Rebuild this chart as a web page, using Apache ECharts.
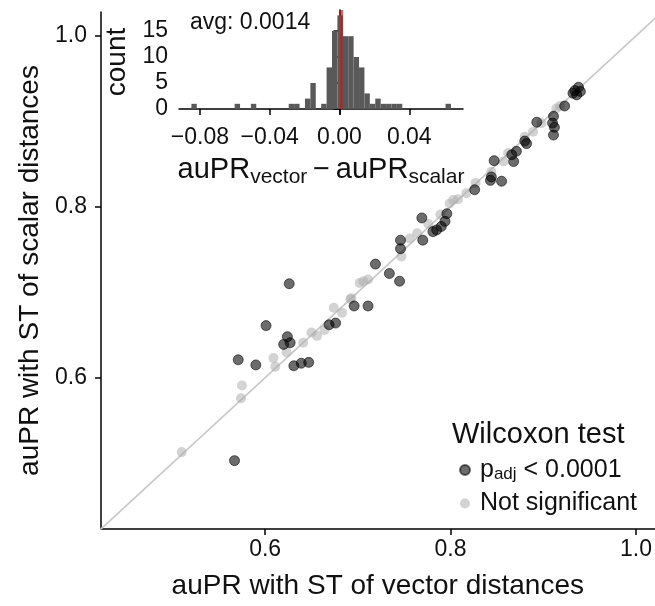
<!DOCTYPE html>
<html><head><meta charset="utf-8">
<script src="https://cdn.jsdelivr.net/npm/echarts@6/dist/echarts.min.js"></script>
<style>html,body{margin:0;padding:0;background:#fff}#c{width:655px;height:606px}</style>
</head><body><div id="c"></div>
<script>
// Significant (p_adj < 0.0001) points
const sigX = [0.567,0.571,0.590,0.601,0.626,0.624,0.620,0.627,0.631,0.639,0.647,0.669,0.676,0.696,0.711,0.719,0.734,0.745,0.746,0.746,0.769,0.770,0.781,0.785,0.794,0.796,0.790,0.826,0.844,0.843,0.855,0.847,0.868,0.866,0.871,0.882,0.880,0.893,0.911,0.910,0.912,0.911,0.923,0.938,0.932,0.936,0.934,0.940];
const sigY = [0.503,0.621,0.615,0.661,0.710,0.648,0.639,0.641,0.614,0.617,0.618,0.662,0.664,0.684,0.684,0.733,0.722,0.713,0.761,0.751,0.787,0.761,0.771,0.773,0.783,0.792,0.777,0.820,0.835,0.831,0.830,0.854,0.853,0.861,0.865,0.874,0.877,0.899,0.906,0.898,0.893,0.884,0.918,0.940,0.933,0.931,0.936,0.935];
// Not significant points
const nsX = [0.510,0.574,0.575,0.609,0.611,0.623,0.641,0.650,0.656,0.664,0.674,0.683,0.692,0.693,0.702,0.706,0.711,0.747,0.756,0.764,0.789,0.799,0.803,0.817,0.827,0.844,0.857,0.862,0.880,0.889,0.898,0.914,0.918,0.808,0.776];
const nsY = [0.513,0.576,0.591,0.623,0.613,0.630,0.641,0.653,0.649,0.656,0.682,0.676,0.692,0.693,0.711,0.713,0.715,0.742,0.763,0.769,0.791,0.804,0.808,0.816,0.828,0.841,0.853,0.863,0.882,0.888,0.898,0.915,0.918,0.809,0.780];
const mainTicks = [0.6, 0.8, 1.0];

// Inset histogram of auPR_vector - auPR_scalar
const histCenters = [-0.08335,-0.05855,-0.04925,-0.02755,-0.02445,-0.01825,-0.01515,-0.00895,-0.00585,-0.00275,0.00035,0.00345,0.00655,0.00965,0.01275,0.01585,0.01895,0.02205,0.02515,0.02825,0.03135,0.03445,0.06235];
const histCounts  = [1,1,1,1,1,2,5,1,8,15,18,14,14,10,8,3,1,2,1,1,1,1,1];
const binWidth = 0.0031;
const histXTicks = [-0.08, -0.04, 0.00, 0.04];
const histYTicks = [0, 5, 10, 15];
const avgDiff = 0.0014;

const FONT = 'Liberation Sans, Arial, Helvetica, sans-serif';
const TXT = '#111';
const mainMin = 0.423, xMax = 1.02, yMax = 1.028;
const hxMin = -0.092, hxMax = 0.0708, hyMin = -0.96, hyMax = 19.04;

const chart = echarts.init(document.getElementById('c'), null, {renderer: 'canvas'});
const axisLine = {show: true, lineStyle: {color: '#000', width: 1.5}};
const minus = v => v.toFixed(2).replace('-', '\u2212');

chart.setOption({
  animation: false,
  backgroundColor: '#fff',
  textStyle: {fontFamily: FONT},
  grid: [
    {left: 101, top: 12, width: 554, height: 517},
    {left: 179, top: 10, width: 284, height: 104}
  ],
  xAxis: [
    {gridIndex: 0, type: 'value', min: mainMin, max: xMax,
     axisLine: axisLine, splitLine: {show: false},
     axisTick: {show: true, customValues: mainTicks, length: 6, lineStyle: {color: '#000', width: 1.5}},
     axisLabel: {customValues: mainTicks, formatter: v => v.toFixed(1), fontSize: 23, color: TXT, margin: 9, fontFamily: FONT},
     name: 'auPR with ST of vector distances', nameLocation: 'middle', nameGap: 43,
     nameTextStyle: {fontSize: 28, color: TXT, fontFamily: FONT}},
    {gridIndex: 1, type: 'value', min: hxMin, max: hxMax,
     axisLine: axisLine, splitLine: {show: false},
     axisTick: {show: true, customValues: histXTicks, length: 6, lineStyle: {color: '#000', width: 1.5}},
     axisLabel: {customValues: histXTicks, formatter: minus, fontSize: 23, color: TXT, margin: 12, fontFamily: FONT},
     name: '{m|auPR}{s|vector}{m|\u2009\u2212\u2009auPR}{s|scalar}', nameLocation: 'middle', nameGap: 42,
     nameTextStyle: {color: TXT, rich: {
       m: {fontSize: 29, lineHeight: 28, color: TXT, fontFamily: FONT},
       s: {fontSize: 21, lineHeight: 21, padding: [14, 0, 0, 0], color: TXT, fontFamily: FONT}}}}
  ],
  yAxis: [
    {gridIndex: 0, type: 'value', min: mainMin, max: yMax,
     axisLine: axisLine, splitLine: {show: false},
     axisTick: {show: true, customValues: mainTicks, length: 6, lineStyle: {color: '#000', width: 1.5}},
     axisLabel: {customValues: mainTicks, formatter: v => v.toFixed(1), fontSize: 23, color: TXT, margin: 14, fontFamily: FONT},
     name: 'auPR with ST of scalar distances', nameLocation: 'middle', nameGap: 47,
     nameTextStyle: {fontSize: 28, color: TXT, fontFamily: FONT}},
    {gridIndex: 1, type: 'value', min: hyMin, max: hyMax,
     axisLine: axisLine, splitLine: {show: false},
     axisTick: {show: true, customValues: histYTicks, length: 6, lineStyle: {color: '#000', width: 1.5}},
     axisLabel: {customValues: histYTicks, fontSize: 23, color: TXT, margin: 11, fontFamily: FONT},
     name: 'count', nameLocation: 'middle', nameGap: 48,
     nameTextStyle: {fontSize: 28, color: TXT, fontFamily: FONT}}
  ],
  legend: {
    data: ['sig', 'ns'], orient: 'vertical', left: 454, top: 452,
    itemWidth: 20, itemHeight: 10, itemGap: 8, icon: 'circle', selectedMode: false,
    formatter: n => n === 'sig' ? '{m|p}{s|adj}{m| < 0.0001}' : '{m|Not significant}',
    textStyle: {rich: {
      m: {fontSize: 25, lineHeight: 26, color: TXT, fontFamily: FONT},
      s: {fontSize: 17, lineHeight: 17, padding: [9, 0, 0, 0], color: TXT, fontFamily: FONT}}}
  },
  graphic: [
    {type: 'text', left: 452, top: 420, style: {text: 'Wilcoxon test', font: '29px ' + FONT, fill: TXT}},
    {type: 'text', left: 190, top: 11, style: {text: 'avg: ' + avgDiff, font: '23px ' + FONT, fill: TXT}}
  ],
  series: [
    {type: 'line', xAxisIndex: 0, yAxisIndex: 0, silent: true, symbol: 'none', z: 1,
     data: [[0.3, 0.3], [1.1, 1.1]], lineStyle: {color: '#c8c8c8', width: 1.6}},
    {name: 'ns', type: 'scatter', xAxisIndex: 0, yAxisIndex: 0, symbolSize: 10, z: 2,
     data: nsX.map((x, i) => [x, nsY[i]]),
     itemStyle: {color: 'rgba(170,170,170,0.65)'}},
    {name: 'sig', type: 'scatter', xAxisIndex: 0, yAxisIndex: 0, symbolSize: 10, z: 3,
     data: sigX.map((x, i) => [x, sigY[i]]),
     itemStyle: {color: 'rgba(0,0,0,0.72)', borderColor: 'rgba(0,0,0,0.7)', borderWidth: 1}},
    {type: 'custom', xAxisIndex: 1, yAxisIndex: 1, z: 2,
     data: histCenters.map((c, i) => [c, histCounts[i]]),
     renderItem: (params, api) => {
       const c = api.value(0), n = api.value(1);
       const p0 = api.coord([c - binWidth / 2, 0]);
       const p1 = api.coord([c + binWidth / 2, n]);
       return {type: 'rect', shape: {x: p0[0], y: p1[1], width: p1[0] - p0[0], height: p0[1] - p1[1]},
               style: {fill: '#595959'}};
     }},
    {type: 'line', xAxisIndex: 1, yAxisIndex: 1, silent: true, symbol: 'none', z: 4,
     data: [[avgDiff, 0], [avgDiff, hyMax]], lineStyle: {color: 'rgba(230,0,0,0.65)', width: 2.5}}
  ]
});
</script></body></html>
